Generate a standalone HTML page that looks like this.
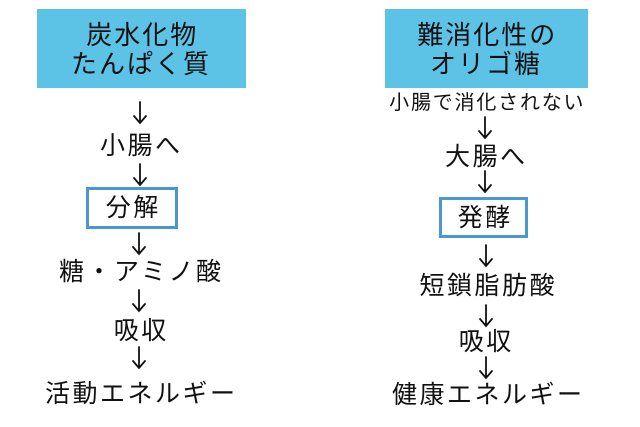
<!DOCTYPE html>
<html><head><meta charset="utf-8"><style>
body{margin:0;width:640px;height:427px;background:#fff;position:relative;overflow:hidden;font-family:"Liberation Sans","Noto Sans CJK JP",sans-serif;color:#111}
.t{position:absolute;width:300px;text-align:center;white-space:nowrap;font-size:25px;letter-spacing:2.5px;text-indent:2.5px;height:30px;line-height:30px}
.box{position:absolute;background:#5dc3e6}
.ob{position:absolute;border:3px solid #4d97cf;box-sizing:border-box;background:#fff}
svg{position:absolute;left:0;top:0}
</style></head><body>
<div class="box" style="left:37px;top:9px;width:209px;height:79px"></div>
<div class="box" style="left:385px;top:9px;width:203px;height:79px"></div>
<div class="t" style="left:-9px;top:21px;font-size:26px;letter-spacing:2px;line-height:29px;height:58px">炭水化物<br>たんぱく質</div>
<div class="t" style="left:336px;top:21px;font-size:26px;letter-spacing:2px;line-height:29px;height:58px">難消化性の<br>オリゴ糖</div>

<div class="ob" style="left:86px;top:187px;width:92px;height:42px"></div>
<div class="ob" style="left:439px;top:197px;width:89px;height:41px"></div>

<div class="t" style="left:-10px;top:131px">小腸へ</div>
<div class="t" style="left:-18px;top:193px">分解</div>
<div class="t" style="left:-10px;top:257px">糖・アミノ酸</div>
<div class="t" style="left:-10px;top:316px">吸収</div>
<div class="t" style="left:-10px;top:379px">活動エネルギー</div>

<div class="t" style="left:336px;top:88px;font-size:20px;letter-spacing:1.8px">小腸で消化されない</div>
<div class="t" style="left:335px;top:142px">大腸へ</div>
<div class="t" style="left:334px;top:203px">発酵</div>
<div class="t" style="left:337px;top:271px">短鎖脂肪酸</div>
<div class="t" style="left:335px;top:327px">吸収</div>
<div class="t" style="left:337px;top:380px">健康エネルギー</div>

<svg width="640" height="427" fill="none" stroke="#111" stroke-width="1.8" stroke-linecap="round">
<g id="a"></g>
<path d="M140 102V123M134 116L140 123L146 116"/>
<path d="M140 164V185M134 178L140 185L146 178"/>
<path d="M139 233V254M133 247L139 254L145 247"/>
<path d="M139 290V311M133 304L139 311L145 304"/>
<path d="M139 347V368M133 361L139 368L145 361"/>
<path d="M485 117V138M479 131L485 138L491 131"/>
<path d="M485 171V192M479 185L485 192L491 185"/>
<path d="M486 245V266M480 259L486 266L492 259"/>
<path d="M486 305V326M480 319L486 326L492 319"/>
<path d="M486 357V378M480 371L486 378L492 371"/>
</svg>
</body></html>
